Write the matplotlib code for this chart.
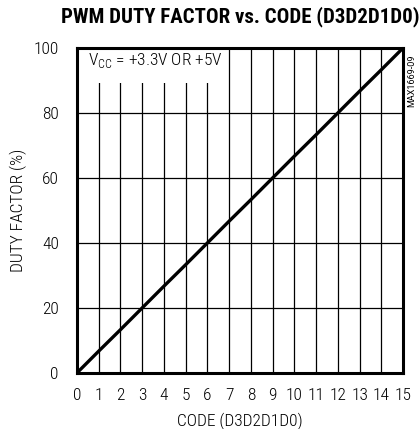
import matplotlib
matplotlib.use("Agg")
import matplotlib.pyplot as plt
from matplotlib.patches import Rectangle

# duty factor at each code step
codes = [0, 1, 2, 3, 4, 5, 6, 7, 8, 9, 10, 11, 12, 13, 14, 15]
duty = [0, 6.7, 13.3, 20, 26.7, 33.3, 40, 46.7, 53.3, 60, 66.7, 73.3, 80, 86.7, 93.3, 100]
yticks = [0, 20, 40, 60, 80, 100]

plt.rcParams["font.family"] = ["Roboto Condensed", "DejaVu Sans"]
plt.rcParams["font.weight"] = "light"
plt.rcParams["axes.labelweight"] = "light"
plt.rcParams["mathtext.fontset"] = "custom"
plt.rcParams["mathtext.rm"] = "Roboto Condensed:light"

fig = plt.figure(figsize=(4.2, 4.29), dpi=100)
ax = fig.add_axes([0.183, 0.1305, 0.777, 0.758])

ax.set_xlim(0, 15)
ax.set_ylim(0, 100)
ax.set_xticks(codes)
ax.set_yticks(yticks)
ax.tick_params(length=0, labelsize=12.5, pad=11)
ax.tick_params(axis="y", pad=13)
ax.grid(True, color="black", linewidth=0.9)
ax.set_axisbelow(True)
for s in ax.spines.values():
    s.set_linewidth(2.2)

# white area behind the supply-voltage note
ax.add_patch(Rectangle((0, 89.3), 6.6, 10.7, facecolor="white", edgecolor="none", zorder=1))
ax.plot(codes, duty, color="black", linewidth=2.4, solid_capstyle="butt", zorder=3)

ax.set_xlabel("CODE (D3D2D1D0)", fontsize=12.5, labelpad=6.5)
ax.set_ylabel("DUTY FACTOR (%)", fontsize=12.5, labelpad=5)
fig.suptitle("PWM DUTY FACTOR vs. CODE (D3D2D1D0)", x=0.572, y=0.985,
             fontsize=15, fontweight="black")

ax.text(0.5, 96, "V$_{\\mathregular{CC}}$ = +3.3V OR +5V", fontsize=12.5, va="center",
        ha="left", zorder=4)
fig.text(0.981, 0.811, "MAX1669-09", rotation=90, fontsize=6.5, ha="center", va="center",
         family=["Roboto", "DejaVu Sans"], fontweight="normal")

fig.savefig("out.png", dpi=100)
